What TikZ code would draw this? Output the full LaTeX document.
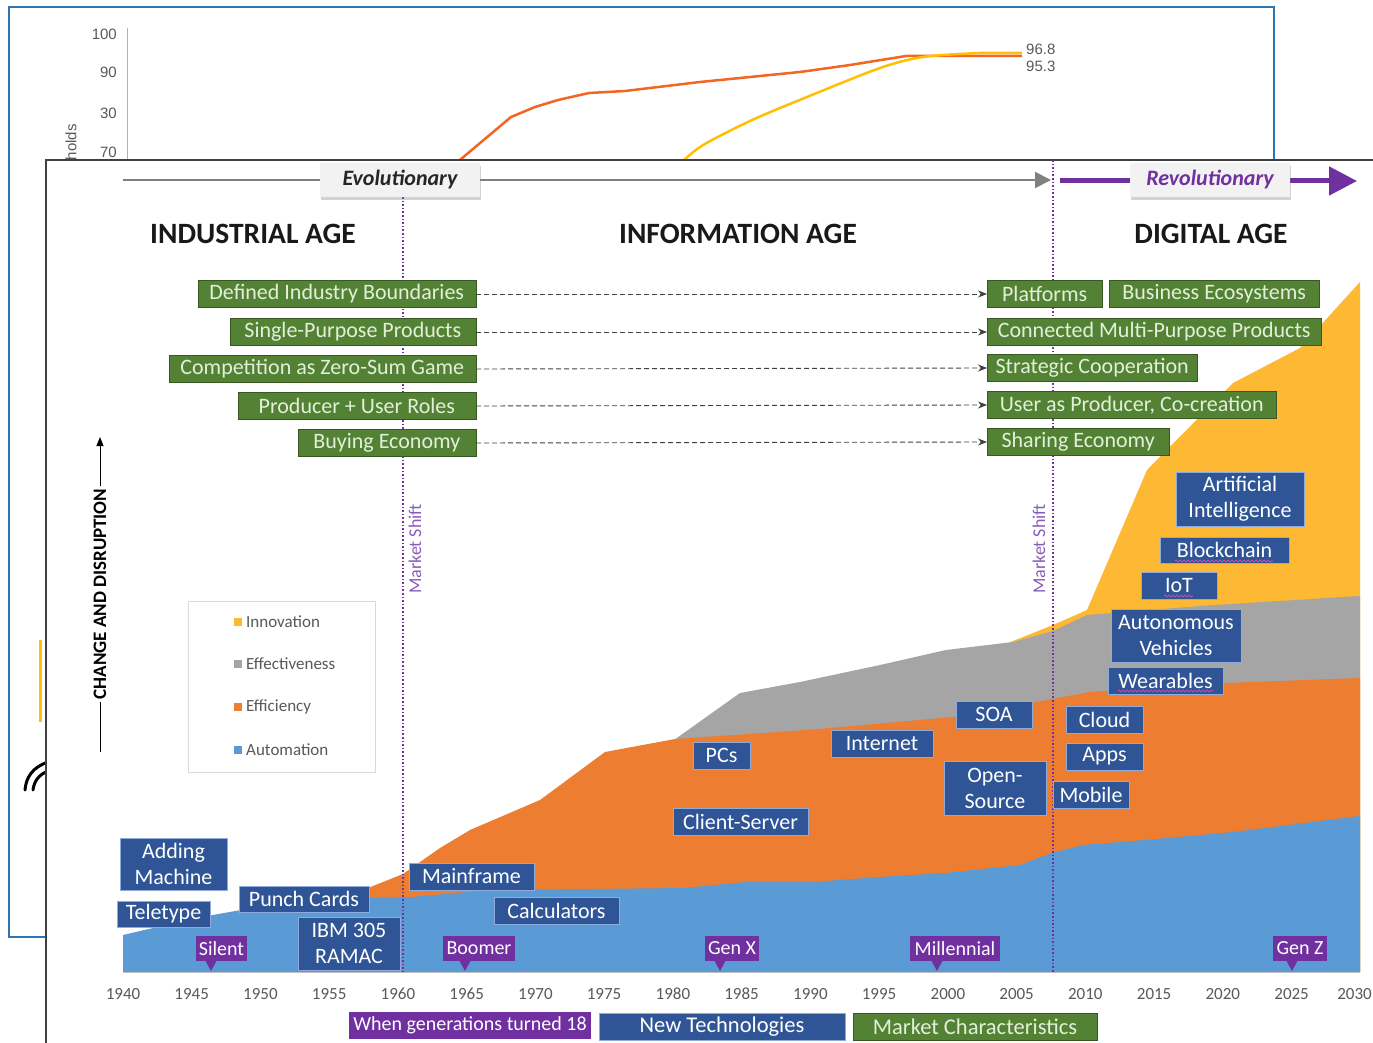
\documentclass[tikz,border=0pt]{standalone}
\usepackage{fontspec}
\setmainfont{Carlito}
\newfontfamily\chartfont{Liberation Sans}
\usetikzlibrary{arrows.meta,shadows,decorations.pathmorphing}

\definecolor{autoblue}{HTML}{5B9BD5}
\definecolor{effiorange}{HTML}{ED7D31}
\definecolor{effegrey}{HTML}{A5A5A5}
\definecolor{innoyellow}{HTML}{FDB933}
\definecolor{mkgreen}{HTML}{548235}
\definecolor{greenedge}{HTML}{385723}
\definecolor{greentext}{HTML}{E2F0D9}
\definecolor{techblue}{HTML}{2F5597}
\definecolor{blueedge}{HTML}{8FAADC}
\definecolor{genpurple}{HTML}{7030A0}
\definecolor{shiftpurple}{HTML}{8A5CB8}
\definecolor{frameblue}{HTML}{2E75B6}
\definecolor{lineorange}{HTML}{F26522}
\definecolor{lineyellow}{HTML}{FFC000}
\definecolor{labelgrey}{HTML}{595959}
\definecolor{boxgrey}{HTML}{F2F2F2}

\tikzset{>=stealth}
\tikzset{
  gbox/.style={draw=greenedge, fill=mkgreen, text=greentext, font=\fontsize{22}{26}\selectfont, minimum height=27, inner sep=0pt},
  tbox/.style={draw=blueedge, fill=techblue, text=white, font=\fontsize{22}{26}\selectfont, minimum height=27, inner sep=0pt, align=center},
  genbox/.style={fill=genpurple, text=white, font=\fontsize{20}{22}\selectfont, minimum height=25, inner sep=0pt},
  erabox/.style={fill=boxgrey, minimum width=160, minimum height=34, inner sep=0pt, font=\fontsize{22}{22}\selectfont\bfseries\itshape, drop shadow={shadow xshift=1pt, shadow yshift=-3pt, opacity=.35}},
  agelabel/.style={font=\fontsize{29.5}{30}\selectfont\bfseries, text=black!90},
  shiftline/.style={draw=genpurple, dotted, line width=1.6pt},
  shiftlabel/.style={rotate=90, text=shiftpurple, font=\fontsize{18}{18}\selectfont},
  mkarrow/.style={draw=black!75, dash pattern=on 5pt off 3pt, line width=.9pt, -{Stealth[length=9pt,width=7pt]}},
  ylabel/.style={font=\chartfont\fontsize{15}{15}\selectfont, text=labelgrey, inner sep=0pt},
  yearlbl/.style={font=\fontsize{17}{17}\selectfont, text=labelgrey, inner sep=0pt},
  legendlbl/.style={font=\fontsize{17}{17}\selectfont, text=labelgrey, inner sep=0pt, anchor=west},
  squiggle/.style={draw=magenta!70, line width=.6pt, decorate, decoration={snake, segment length=4pt, amplitude=1pt}}
}

\begin{document}
\begin{tikzpicture}[x=1pt,y=-1pt]
  \useasboundingbox (0,0) rectangle (1373,1043);

  % chart behind
  \draw[frameblue, line width=1.5pt] (9,7) rectangle (1274,937);
  \draw[black!30, line width=.8pt] (127,28) -- (127,170);
  \node[ylabel, anchor=east] (y100) at (117,34) {100};
  \node[ylabel, anchor=east] (y90) at (117,72) {90};
  \node[ylabel, anchor=east] (y30) at (117,113) {30};
  \node[ylabel, anchor=east] (y70) at (117,152) {70};
  \node[ylabel, rotate=90, anchor=east] (ytitle) at (71,124) {holds};
  \draw[lineorange, line width=2.5pt, line join=round] (448,170) -- (511,117) -- (535,107) -- (558,100) -- (589,93) -- (625,91) -- (700,82) -- (800,72) -- (850,65) -- (906,56) -- (1022,56);
  \draw[lineyellow, line width=2.5pt] plot[smooth] coordinates {(674,170) (700,147) (750,121) (807,97) (880,68) (923,57) (980,53) (1022,53)};
  \node[ylabel, anchor=west] (v968) at (1026,49) {96.8};
  \node[ylabel, anchor=west] (v953) at (1026,66) {95.3};
  \draw[lineyellow, line width=3pt] (40,640) -- (40,722);
  \draw[black, line width=3pt, line cap=round] (25,790) .. controls (26,777) and (33,767) .. (48,762);
  \draw[black, line width=3pt, line cap=round] (33,790) .. controls (34,782) and (38,775) .. (48,771);

  % front panel
  \draw[fill=white, draw=black!75, line width=1.5pt] (46,160) rectangle (1420,1100);

  % stacked areas
  \fill[innoyellow] (1000,972) -- (1000,646) -- (1013,641) -- (1053,625) -- (1087,610) -- (1147,470) -- (1233,383) -- (1300,348) -- (1360,282) -- (1360,972) -- cycle;
  \fill[effegrey] (674,972) -- (674,740) -- (740,693) -- (800,682) -- (880,665) -- (946,650) -- (1013,642) -- (1053,631) -- (1087,615) -- (1200,606) -- (1360,596) -- (1360,972) -- cycle;
  \fill[effiorange] (368,972) -- (368,888) -- (403,874) -- (440,848) -- (470,830) -- (540,800) -- (605,752) -- (675,739) -- (807,730) -- (953,717) -- (1047,700) -- (1090,692) -- (1200,684) -- (1360,678) -- (1360,972) -- cycle;
  \fill[autoblue] (123,972) -- (123,935) -- (196,918) -- (241,910) -- (300,903) -- (370,898) -- (411,897) -- (491,890) -- (683,888) -- (746,882) -- (813,882) -- (879,877) -- (945,873) -- (1020,865) -- (1052,853) -- (1083,845) -- (1145,840) -- (1233,832) -- (1360,816) -- (1360,972) -- cycle;

  % market shifts
  \draw[shiftline] (403,197) -- (403,972);
  \draw[shiftline] (1053,160) -- (1053,972);
  \node[shiftlabel] (shift1) at (415,549) {Market Shift};
  \node[shiftlabel] (shift2) at (1039,549) {Market Shift};

  % eras
  \draw[black!50, line width=2pt, -{Triangle[length=16pt,width=16pt]}] (123,180) -- (1051,180);
  \draw[genpurple, line width=5pt, -{Triangle[length=28pt,width=28pt]}] (1060,181) -- (1357,181);
  \node[erabox, text=black!85] (evo) at (400,180) {Evolutionary};
  \node[erabox, text=genpurple] (revo) at (1210,180) {Revolutionary};

  \node[agelabel] (indage) at (253,234) {INDUSTRIAL AGE};
  \node[agelabel] (infage) at (738,234) {INFORMATION AGE};
  \node[agelabel] (digage) at (1211,234) {DIGITAL AGE};

  % market characteristics
  \node[gbox, anchor=east, minimum width=278] (dib) at (476,294) {Defined Industry Boundaries};
  \node[gbox, anchor=east, minimum width=246] (spp) at (476,332) {Single-Purpose Products};
  \node[gbox, anchor=east, minimum width=307] (czs) at (476,369) {Competition as Zero-Sum Game};
  \node[gbox, anchor=east, minimum width=238] (pur) at (476,406) {Producer + User Roles};
  \node[gbox, anchor=east, minimum width=178] (bue) at (476,443) {Buying Economy};

  \node[gbox, anchor=west, minimum width=115] (plat) at (987,294) {Platforms};
  \node[gbox, anchor=west, minimum width=210] (beco) at (1109,294) {Business Ecosystems};
  \node[gbox, anchor=west, minimum width=334] (cmpp) at (987,332) {Connected Multi-Purpose Products};
  \node[gbox, anchor=west, minimum width=210] (stco) at (987,368) {Strategic Cooperation};
  \node[gbox, anchor=west, minimum width=289] (upcc) at (987,405) {User as Producer, Co-creation};
  \node[gbox, anchor=west, minimum width=182] (shec) at (987,442) {Sharing Economy};

  \draw[mkarrow] (dib.east) -- (plat.west);
  \draw[mkarrow] (spp.east) -- (cmpp.west);
  \draw[mkarrow] (czs.east) -- (stco.west);
  \draw[mkarrow] (pur.east) -- (upcc.west);
  \draw[mkarrow] (bue.east) -- (shec.west);

  % new technologies
  \node[tbox, minimum width=107, minimum height=52] (addm) at (173.5,864) {Adding\\Machine};
  \node[tbox, minimum width=93, minimum height=26] (tele) at (163.5,914) {Teletype};
  \node[tbox, minimum width=130, minimum height=26] (punc) at (304,899) {Punch Cards};
  \node[tbox, minimum width=102, minimum height=53] (ibm) at (349,943.5) {IBM 305\\RAMAC};
  \node[tbox, minimum width=125] (mainf) at (471.5,876.5) {Mainframe};
  \node[tbox, minimum width=125] (calc) at (556.5,910.5) {Calculators};
  \node[tbox, minimum width=57] (pcs) at (721.5,755.5) {PCs};
  \node[tbox, minimum width=135] (clse) at (740.5,821.5) {Client-Server};
  \node[tbox, minimum width=102] (inet) at (882,743.5) {Internet};
  \node[tbox, minimum width=76] (soa) at (994,714.5) {SOA};
  \node[tbox, minimum width=102, minimum height=54] (opsrc) at (995,788) {Open-\\Source};
  \node[tbox, minimum width=77] (cloud) at (1104.5,719.5) {Cloud};
  \node[tbox, minimum width=77] (apps) at (1104.5,756.5) {Apps};
  \node[tbox, minimum width=76] (mobile) at (1091,794.5) {Mobile};
  \node[tbox, minimum width=115] (wear) at (1165.5,680.5) {Wearables};
  \node[tbox, minimum width=130, minimum height=53] (autov) at (1176,635.5) {Autonomous\\Vehicles};
  \node[tbox, minimum width=76] (iot) at (1179,585.5) {IoT};
  \node[tbox, minimum width=129, minimum height=26] (bchain) at (1224.5,550) {Blockchain};
  \node[tbox, minimum width=128, minimum height=54] (artint) at (1240,499) {Artificial\\Intelligence};
  \draw[squiggle] (1118,691) -- (1213,691);
  \draw[squiggle] (1164,596) -- (1193,596);
  \draw[squiggle] (1175,561) -- (1273,561);

  % generations
  \node[genbox, minimum width=51] (silent) at (221.5,948.5) {Silent};
  \node[genbox, minimum width=72] (boomer) at (479,948.5) {Boomer};
  \node[genbox, minimum width=54] (genx) at (732,948.5) {Gen X};
  \node[genbox, minimum width=90] (millen) at (955,948.5) {Millennial};
  \node[genbox, minimum width=54] (genz) at (1300,948.5) {Gen Z};
  \fill[genpurple] (205,960) -- (217,960) -- (211,971) -- cycle;
  \fill[genpurple] (459,960) -- (471,960) -- (465,971) -- cycle;
  \fill[genpurple] (714,960) -- (726,960) -- (720,971) -- cycle;
  \fill[genpurple] (931,960) -- (943,960) -- (937,971) -- cycle;
  \fill[genpurple] (1286,960) -- (1298,960) -- (1292,971) -- cycle;

  % legend
  \draw[black!15, line width=.8pt] (188,601) rectangle (375,772);
  \fill[innoyellow] (234,618) rectangle (242,626);
  \fill[effegrey] (234,660) rectangle (242,668);
  \fill[effiorange] (234,703) rectangle (242,711);
  \fill[autoblue] (234,746) rectangle (242,754);
  \node[legendlbl] (linno) at (246,622) {Innovation};
  \node[legendlbl] (leffe) at (246,664) {Effectiveness};
  \node[legendlbl] (leffi) at (246,707) {Efficiency};
  \node[legendlbl] (lauto) at (246,750) {Automation};

  \node[rotate=90, inner sep=2pt, font=\fontsize{19}{19}\selectfont\bfseries] (cad) at (100,594) {CHANGE AND DISRUPTION};
  \draw[line width=1pt, -{Triangle[length=9pt,width=7pt]}] (cad.east) -- (100,437);
  \draw[line width=1pt] (cad.west) -- (100,752);

  % years
  \draw[black!25, line width=.8pt] (123,972) -- (1360,972);
  \node[yearlbl] (t1940) at (123,994) {1940};
  \node[yearlbl] (t1945) at (191.7,994) {1945};
  \node[yearlbl] (t1950) at (260.4,994) {1950};
  \node[yearlbl] (t1955) at (329.2,994) {1955};
  \node[yearlbl] (t1960) at (397.9,994) {1960};
  \node[yearlbl] (t1965) at (466.7,994) {1965};
  \node[yearlbl] (t1970) at (535.4,994) {1970};
  \node[yearlbl] (t1975) at (604.1,994) {1975};
  \node[yearlbl] (t1980) at (672.9,994) {1980};
  \node[yearlbl] (t1985) at (741.6,994) {1985};
  \node[yearlbl] (t1990) at (810.4,994) {1990};
  \node[yearlbl] (t1995) at (879.1,994) {1995};
  \node[yearlbl] (t2000) at (947.9,994) {2000};
  \node[yearlbl] (t2005) at (1016.6,994) {2005};
  \node[yearlbl] (t2010) at (1085.3,994) {2010};
  \node[yearlbl] (t2015) at (1154.1,994) {2015};
  \node[yearlbl] (t2020) at (1222.8,994) {2020};
  \node[yearlbl] (t2025) at (1291.6,994) {2025};
  \node[yearlbl, anchor=east] (t2030) at (1372,994) {2030};

  % key
  \node[genbox, minimum width=242, minimum height=27, font=\fontsize{20}{22}\selectfont] (kgen) at (470,1025.5) {When generations turned 18};
  \node[tbox, minimum width=246, font=\fontsize{22.5}{23}\selectfont] (ktech) at (722,1026.5) {New Technologies};
  \node[gbox, minimum width=244, font=\fontsize{22.5}{23}\selectfont] (kmark) at (975,1026.5) {Market Characteristics};
\end{tikzpicture}
\end{document}
